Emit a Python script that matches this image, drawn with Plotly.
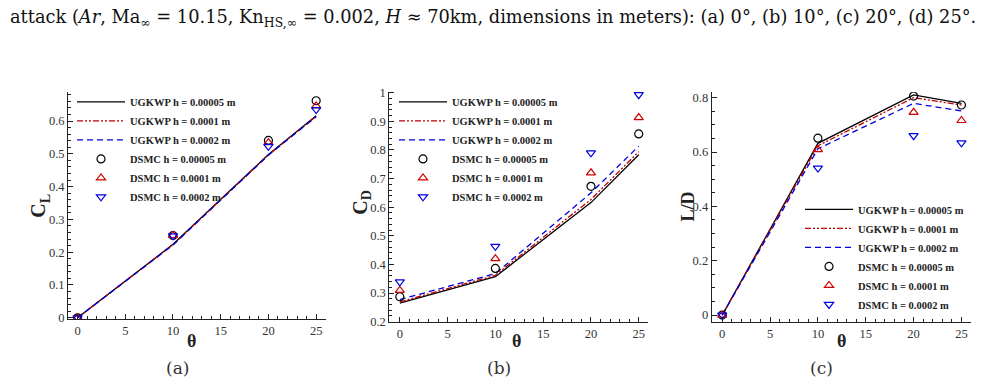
import plotly.graph_objects as go

W, H = 986, 390

theta = [0, 10, 20, 25]

# C_L
ugkwp_cl_h1 = [0, 0.224, 0.498, 0.616]
ugkwp_cl_h2 = [0, 0.223, 0.497, 0.614]
ugkwp_cl_h3 = [0, 0.222, 0.496, 0.613]
dsmc_cl_h1 = [0, 0.251, 0.541, 0.662]
dsmc_cl_h2 = [0, 0.251, 0.534, 0.646]
dsmc_cl_h3 = [0, 0.250, 0.523, 0.635]

# C_D
ugkwp_cd_h1 = [0.265, 0.357, 0.616, 0.783]
ugkwp_cd_h2 = [0.269, 0.362, 0.627, 0.794]
ugkwp_cd_h3 = [0.277, 0.368, 0.650, 0.813]
dsmc_cd_h1 = [0.287, 0.386, 0.673, 0.856]
dsmc_cd_h2 = [0.309, 0.420, 0.720, 0.913]
dsmc_cd_h3 = [0.339, 0.463, 0.790, 0.993]

# L/D
ugkwp_ld_h1 = [0, 0.632, 0.810, 0.779]
ugkwp_ld_h2 = [0, 0.623, 0.800, 0.773]
ugkwp_ld_h3 = [0, 0.612, 0.779, 0.751]
dsmc_ld_h1 = [0, 0.651, 0.806, 0.773]
dsmc_ld_h2 = [0, 0.609, 0.746, 0.716]
dsmc_ld_h3 = [0, 0.541, 0.660, 0.634]

names_line = ["UGKWP h = 0.00005 m", "UGKWP h = 0.0001 m", "UGKWP h = 0.0002 m"]
names_dsmc = ["DSMC h = 0.00005 m", "DSMC h = 0.0001 m", "DSMC h = 0.0002 m"]

line_colors = ["#000000", "#c00000", "#0000e0"]
line_dashes = ["solid", "6px,2px,2px,2px,2px,2px", "6px,4px"]
mk_colors = ["#000000", "#d00000", "#0000e0"]
mk_symbols = ["circle-open", "triangle-up-open", "triangle-down-open"]

panels = [
    ([ugkwp_cl_h1, ugkwp_cl_h2, ugkwp_cl_h3], [dsmc_cl_h1, dsmc_cl_h2, dsmc_cl_h3]),
    ([ugkwp_cd_h1, ugkwp_cd_h2, ugkwp_cd_h3], [dsmc_cd_h1, dsmc_cd_h2, dsmc_cd_h3]),
    ([ugkwp_ld_h1, ugkwp_ld_h2, ugkwp_ld_h3], [dsmc_ld_h1, dsmc_ld_h2, dsmc_ld_h3]),
]

fig = go.Figure()
for p, (lines, dsmc) in enumerate(panels):
    xa = "x" if p == 0 else f"x{p+1}"
    ya = "y" if p == 0 else f"y{p+1}"
    lg = "legend" if p == 0 else f"legend{p+1}"
    for i in range(3):
        fig.add_trace(go.Scatter(
            x=theta, y=lines[i], mode="lines", name=names_line[i],
            line=dict(color=line_colors[i], width=1.3, dash=line_dashes[i]),
            xaxis=xa, yaxis=ya, legend=lg))
    for i in range(3):
        fig.add_trace(go.Scatter(
            x=theta, y=dsmc[i], mode="markers", name=names_dsmc[i],
            marker=dict(symbol=mk_symbols[i], size=8, color=mk_colors[i],
                        line=dict(width=1.2, color=mk_colors[i])),
            xaxis=xa, yaxis=ya, legend=lg))

def px_x(v):
    return v / W

def px_y(v):
    return 1 - v / H

tickfont = dict(family="Liberation Serif", size=12.5, color="#333333")
axis_common = dict(showline=True, linecolor="#222222", linewidth=1, showgrid=False,
                   zeroline=False, ticks="inside", ticklen=5, tickcolor="#222222",
                   tickfont=tickfont, mirror=False)

# panel geometry (pixels)
xdom = [(68, 325.7), (389.3, 648.3), (711.7, 971)]
ydom = [(324.4, 89.3), (326.7, 89.3), (326.7, 90)]
xranges = [[-1.0, 26.0], [-1.1, 26.0], [-1.1, 26.0]]
yranges = [[-0.005, 0.69], [0.2, 1.004], [-0.024, 0.82]]
ydticks = [0.1, 0.1, 0.2]
yminor = [0.02, 0.02, 0.05]

for p in range(3):
    sfx = "" if p == 0 else str(p + 1)
    fig.layout["xaxis" + sfx] = dict(
        domain=[px_x(xdom[p][0]), px_x(xdom[p][1])], range=xranges[p],
        anchor="y" + sfx, dtick=5, tick0=0,
        minor=dict(dtick=1, tick0=0, ticks="inside", ticklen=3, tickcolor="#222222"),
        **axis_common)
    fig.layout["yaxis" + sfx] = dict(
        domain=[px_y(ydom[p][0]), px_y(ydom[p][1])], range=yranges[p],
        anchor="x" + sfx, dtick=ydticks[p], tick0=0,
        minor=dict(dtick=yminor[p], tick0=0, ticks="inside", ticklen=3, tickcolor="#222222"),
        **axis_common)

legfont = dict(family="Liberation Serif", size=10.5, color="#222222", weight="bold")
leg_common = dict(bgcolor="rgba(0,0,0,0)", borderwidth=0, font=legfont,
                  itemwidth=48, xanchor="left", yanchor="top", tracegroupgap=0)
fig.update_layout(
    legend=dict(x=px_x(72), y=px_y(85), **leg_common),
    legend2=dict(x=px_x(394), y=px_y(85), **leg_common),
    legend3=dict(x=px_x(800), y=px_y(196), **leg_common),
)

annos = []
titlefont = dict(family="Liberation Serif", size=20, color="#222222", weight="bold")
annos.append(dict(text="C<sub>L</sub>", x=px_x(40), y=px_y(207), textangle=-90, font=titlefont))
annos.append(dict(text="C<sub>D</sub>", x=px_x(362), y=px_y(204), textangle=-90, font=titlefont))
annos.append(dict(text="L/D", x=px_x(688), y=px_y(208), textangle=-90,
                  font=dict(family="Liberation Serif", size=18, color="#222222", weight="bold")))
for xc in [191.7, 516.7, 841.7]:
    annos.append(dict(text="θ", x=px_x(xc), y=px_y(347),
                      font=dict(family="Liberation Serif", size=18, color="#222222", weight="bold")))
for lab, xc in [("(a)", 177), ("(b)", 499), ("(c)", 821)]:
    annos.append(dict(text=lab, x=px_x(xc), y=px_y(375),
                      font=dict(family="DejaVu Serif", size=17, color="#333333")))
annos.append(dict(
    text="attack (<i>Ar</i>, Ma<sub>∞</sub> = 10.15, Kn<sub>HS,∞</sub> = 0.002, <i>H</i> ≈ 70km, dimensions in meters): (a) 0°, (b) 10°, (c) 20°, (d) 25°.",
    x=px_x(493), y=px_y(13), font=dict(family="DejaVu Serif", size=17.8, color="#111111")))
for a in annos:
    a.update(xref="paper", yref="paper", showarrow=False, xanchor="center", yanchor="middle")
fig.update_layout(annotations=annos)

fig.update_layout(width=W, height=H, margin=dict(l=0, r=0, t=0, b=0),
                  paper_bgcolor="white", plot_bgcolor="white", showlegend=True)

fig.write_html("out.html")
